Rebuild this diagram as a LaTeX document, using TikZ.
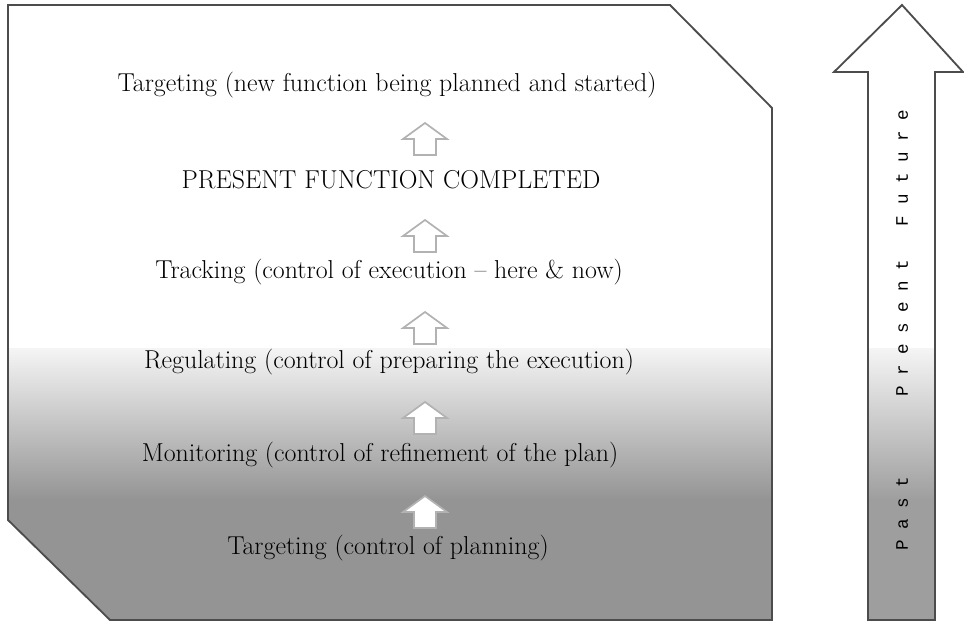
\documentclass[tikz,border=0pt]{standalone}
\usepackage{fontspec}
\usepackage{tikz}
\newfontfamily\timefont{Liberation Mono}

\tikzset{
  stepline/.style={font=\fontsize{18.4}{21}\selectfont, inner sep=0pt},
  frameline/.style={draw=black!70, line width=1.3pt},
  timelabel/.style={font=\timefont\fontsize{12.5}{14}\selectfont, rotate=90, inner sep=0pt},
  uparrow/.pic={
    \filldraw[fill=white, draw=black!30, line width=1.2pt, line join=miter]
      (-11,16) -- (-11,0) -- (-22,0) -- (0,-16) -- (22,0) -- (11,0) -- (11,16) -- cycle;
  }
}

\begin{document}
\begin{tikzpicture}[x=0.025cm, y=-0.025cm]
    \useasboundingbox (0,0) rectangle (964,622);
    % main panel with cut corners
    \begin{scope}
      \clip (8,5) -- (670,5) -- (772,108) -- (772,620) -- (110,620) -- (8,520) -- cycle;
      \fill[white] (0,0) rectangle (780,348);
      \shade[top color=black!4, bottom color=black!42] (0,348) rectangle (780,500);
      \fill[black!42] (0,499) rectangle (780,622);
    \end{scope}
    \draw[frameline] (8,5) -- (670,5) -- (772,108) -- (772,620) -- (110,620) -- (8,520) -- cycle;

    % time arrow
    \begin{scope}
      \clip (868,620) -- (868,72) -- (834,72) -- (902,5) -- (963,72) -- (935,72) -- (935,620) -- cycle;
      \fill[white] (830,0) rectangle (964,348);
      \shade[top color=black!4, bottom color=black!38] (830,348) rectangle (964,500);
      \fill[black!38] (830,499) rectangle (964,622);
    \end{scope}
    \draw[frameline] (868,620) -- (868,72) -- (834,72) -- (902,5) -- (963,72) -- (935,72) -- (935,620) -- cycle;
    \node[timelabel] (past) at (902,514) {P a s t};
    \node[timelabel] (present) at (902,328) {P r e s e n t};
    \node[timelabel] (future) at (902,168) {F u t u r e};

    % steps, bottom to top
    \node[stepline] (plan) at (388,548) {Targeting (control of planning)};
    \node[stepline] (monitor) at (380,455) {Monitoring (control of refinement of the plan)};
    \node[stepline] (regulate) at (389,362) {Regulating (control of preparing the execution)};
    \node[stepline] (track) at (389,272) {Tracking (control of execution -- here \& now)};
    \node[stepline] (done) at (391,180) {PRESENT FUNCTION COMPLETED};
    \node[stepline] (newtarget) at (387,85) {Targeting (new function being planned and started)};

    \foreach \y in {512,418,328,236,139}
    {
      \pic at (425,\y) {uparrow};
    }
\end{tikzpicture}
\end{document}
